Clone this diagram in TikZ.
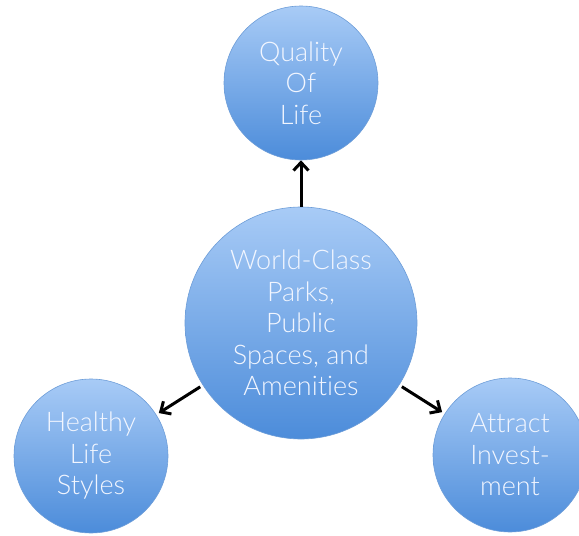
\documentclass[tikz,border=0pt]{standalone}
\usepackage{fontspec}
\setmainfont{Lato Light}[Ligatures={NoCommon,NoContextual,NoRare}]
\usetikzlibrary{arrows.meta}
\definecolor{ctop}{HTML}{A8CBF6}
\definecolor{cbot}{HTML}{4C8CDA}
\definecolor{cedge}{HTML}{6D9DD8}
\definecolor{ctext}{HTML}{F2F6FF}
\tikzset{
  bubble/.style={circle, draw=cedge, line width=0.6pt, top color=ctop, bottom color=cbot,
    text=ctext, align=center, inner sep=0pt, font=\fontsize{27}{31.5}\selectfont},
  link/.style={line width=3pt, -{Straight Barb[length=8pt,width=15pt,line width=3pt]}, shorten <=3pt, shorten >=3pt}
}
\begin{document}
\begin{tikzpicture}[x=1pt,y=-1pt]
\useasboundingbox (0,0) rectangle (579,536);
\node[bubble, minimum size=232pt] (c) at (301,323) {World-Class\\Parks,\\Public\\Spaces, and\\Amenities};
\node[bubble, minimum size=154pt] (q) at (301,83) {Quality\\Of\\Life};
\node[bubble, minimum size=154pt] (h) at (91,456) {Healthy\\Life\\Styles};
\node[bubble, minimum size=154pt] (a) at (510,455) {Attract\\Invest-\\ment};
\draw[link, shorten <=0pt, shorten >=0pt] (c) -- (q);
\draw[link] (c) -- (h);
\draw[link] (c) -- (a);
\end{tikzpicture}
\end{document}
